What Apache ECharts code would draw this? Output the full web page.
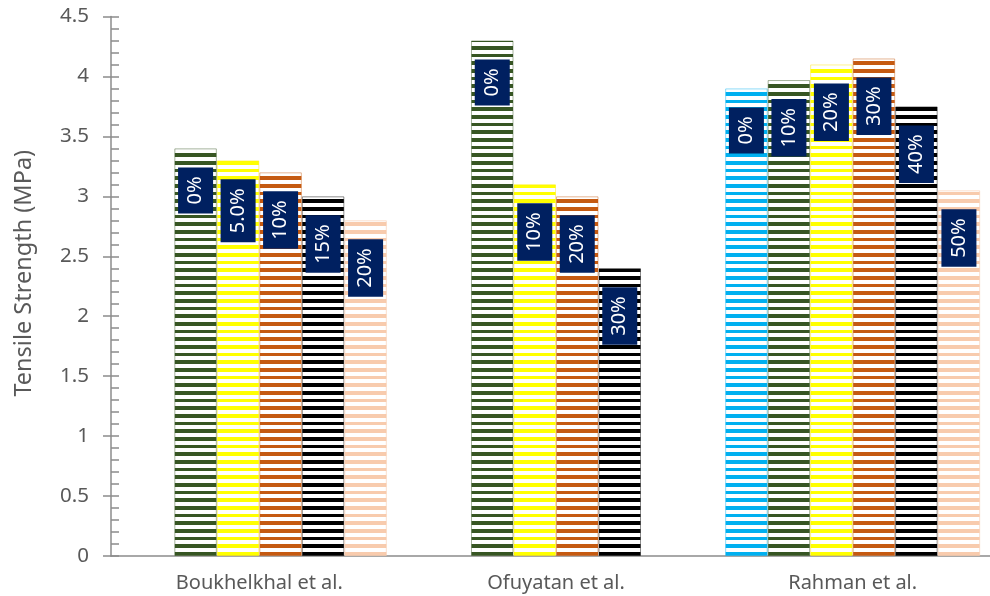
<!DOCTYPE html>
<html><head><meta charset="utf-8">
<script src="https://cdn.jsdelivr.net/npm/echarts@6/dist/echarts.min.js"></script>
<style>html,body{margin:0;padding:0;background:#fff}#c{width:990px;height:596px}</style>
</head><body><div id="c"></div>
<script>
// ---- data ----
const categories = ['Boukhelkhal et al.', 'Ofuyatan et al.', 'Rahman et al.'];
const cyanValues   = [null, null, 3.9];
const greenValues  = [3.4, 4.3, 3.97];
const yellowValues = [3.3, 3.1, 4.1];
const orangeValues = [3.2, 3.0, 4.15];
const blackValues  = [3.0, 2.4, 3.75];
const peachValues  = [2.8, null, 3.05];
const cyanLabels   = [null, null, '0%'];
const greenLabels  = ['0%', '0%', '10%'];
const yellowLabels = ['5.0%', '10%', '20%'];
const orangeLabels = ['10%', '20%', '30%'];
const blackLabels  = ['15%', '30%', '40%'];
const peachLabels  = ['20%', null, '50%'];
const yMin = 0, yMax = 4.5, yStep = 0.5;
const yAxisTitle = 'Tensile Strength (MPa)';

// ---- styles ----
function stripe(color) {
  const c = document.createElement('canvas');
  c.width = 8; c.height = 23;
  const g = c.getContext('2d');
  g.fillStyle = '#ffffff'; g.fillRect(0, 0, 8, 23);
  g.fillStyle = color;
  g.fillRect(0, 0, 8, 4);
  g.fillRect(0, 8, 8, 3);
  g.fillRect(0, 15, 8, 4);
  return { image: c, repeat: 'repeat' };
}
const FONT = 'Noto Sans';
function makeSeries(name, values, labels, color, border) {
  return {
    name: name, type: 'bar', data: values,
    barWidth: 42.5, barGap: '0%',
    itemStyle: { color: stripe(color), borderColor: border, borderWidth: 1 },
    label: {
      show: true, position: ['50%', 19], rotate: 90,
      align: 'right', verticalAlign: 'middle',
      color: '#ffffff', backgroundColor: '#002060',
      padding: [6, 9], fontSize: 20, lineHeight: 23, fontFamily: FONT,
      formatter: p => labels[p.dataIndex] || ''
    }
  };
}

const chart = echarts.init(document.getElementById('c'), null, { renderer: 'canvas' });
chart.setOption({
  animation: false,
  backgroundColor: '#ffffff',
  grid: { left: 111, top: 16.5, width: 890, height: 539.5, containLabel: false, outerBoundsMode: 'none' },
  xAxis: {
    type: 'category', data: categories,
    axisLine: { show: true, lineStyle: { color: '#8c8c8c', width: 1.5 } },
    axisTick: { show: false },
    axisLabel: { color: '#595959', fontSize: 20, fontFamily: FONT, margin: 17 },
    splitLine: { show: false }
  },
  yAxis: [{
    type: 'value', min: yMin, max: yMax, interval: yStep,
    name: yAxisTitle, nameLocation: 'middle', nameGap: 75,
    nameTextStyle: { color: '#595959', fontSize: 23.5, fontFamily: FONT, padding: [0, 0, 0, 26] },
    axisLine: { show: true, lineStyle: { color: '#8c8c8c', width: 1.5 } },
    axisTick: { show: true, inside: false, length: 8, lineStyle: { color: '#8c8c8c', width: 1.5 } },
    axisLabel: { color: '#595959', fontSize: 20.5, fontFamily: FONT, margin: 22, padding: [7, 0, 0, 0] },
    splitLine: { show: false }
  }, {
    type: 'value', min: yMin, max: yMax, interval: yStep, position: 'left',
    axisLine: { show: false },
    axisTick: { show: true, inside: true, length: 8, lineStyle: { color: '#8c8c8c', width: 1.5 } },
    minorTick: { show: true, splitNumber: 5, length: 8, lineStyle: { color: '#8c8c8c', width: 1.5 } },
    axisLabel: { show: false },
    splitLine: { show: false }
  }],
  series: [
    makeSeries('s1', cyanValues, cyanLabels, '#00b0f0', 'rgba(0,176,240,0.45)'),
    makeSeries('s2', greenValues, greenLabels, '#375623', 'rgba(55,86,35,0.45)'),
    makeSeries('s3', yellowValues, yellowLabels, '#ffff00', 'rgba(255,230,0,0.45)'),
    makeSeries('s4', orangeValues, orangeLabels, '#c55a11', 'rgba(197,90,17,0.45)'),
    makeSeries('s5', blackValues, blackLabels, '#000000', 'rgba(0,0,0,0.45)'),
    makeSeries('s6', peachValues, peachLabels, '#f8cbad', 'rgba(248,203,173,0.6)')
  ]
});
</script>
</body></html>
